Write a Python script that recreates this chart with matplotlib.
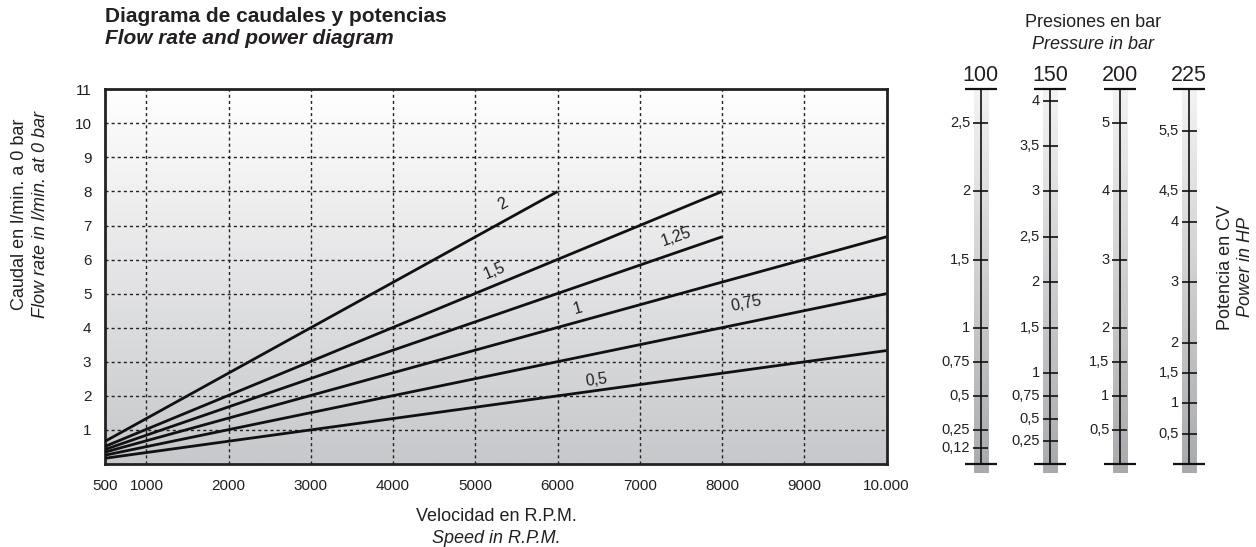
import numpy as np
import matplotlib
matplotlib.use("Agg")
import matplotlib.pyplot as plt
from matplotlib.colors import LinearSegmentedColormap

plt.rcParams['font.family'] = ['Liberation Sans', 'DejaVu Sans']

# ---------------- data ----------------
line_names = ["2", "1,5", "1,25", "1", "0,75", "0,5"]
rpm_start = [500, 500, 500, 500, 500, 500]
rpm_end = [6000, 8000, 8000, 10000, 10000, 10000]
flow_start = [0.67, 0.52, 0.43, 0.35, 0.26, 0.17]
flow_end = [8.0, 8.0, 6.67, 6.67, 5.0, 3.33]

x_ticks = [500, 1000, 2000, 3000, 4000, 5000, 6000, 7000, 8000, 9000, 10000]
x_ticklabels = ["500", "1000", "2000", "3000", "4000", "5000", "6000",
                "7000", "8000", "9000", "10.000"]
y_ticks = [1, 2, 3, 4, 5, 6, 7, 8, 9, 10, 11]

pressures = [100, 150, 200, 225]
power_100 = [2.5, 2, 1.5, 1, 0.75, 0.5, 0.25, 0.12]
power_150 = [4, 3.5, 3, 2.5, 2, 1.5, 1, 0.75, 0.5, 0.25]
power_200 = [5, 4, 3, 2, 1.5, 1, 0.5]
power_225 = [5.5, 4.5, 4, 3, 2, 1.5, 1, 0.5]
power_ticks = [power_100, power_150, power_200, power_225]
FLOW_PER_CV_BAR = 400.0   # flow (l/min) = 400 * CV / pressure(bar)

# label placement (layout)
label_rpm = [5340, 5237, 7448, 6252, 8299, 6475]
label_offset = [0.50, 0.42, 0.46, 0.40, 0.55, 0.30]

# ---------------- figure ----------------
W, H = 1256, 547
fig = plt.figure(figsize=(W / 100, H / 100), dpi=100)
TXT = '#231f20'

def fx(px):
    return px / W

def fy(py):
    return 1 - py / H

left, right, top, bottom = 105.3, 886.5, 89.3, 464.0
ax = fig.add_axes([fx(left), fy(bottom), fx(right - left), (bottom - top) / H])

grad = np.linspace(0, 1, 256).reshape(-1, 1)
bg = LinearSegmentedColormap.from_list('bg', ['#c7c8cb', '#ffffff'])
ax.imshow(grad, extent=[500, 10000, 0, 11], origin='lower', aspect='auto',
          cmap=bg, zorder=0)

for xv in x_ticks[1:-1]:
    ax.axvline(xv, color='#222222', lw=1.0, ls=(0, (2.2, 2.2)), zorder=1)
for yv in y_ticks[:-1]:
    ax.axhline(yv, color='#222222', lw=1.0, ls=(0, (2.2, 2.2)), zorder=1)

for i, name in enumerate(line_names):
    xs = [rpm_start[i], rpm_end[i]]
    ys = [flow_start[i], flow_end[i]]
    ax.plot(xs, ys, color='#111111', lw=2.0, solid_capstyle='butt', zorder=3)
    slope = (ys[1] - ys[0]) / (xs[1] - xs[0])
    lx = label_rpm[i]
    ly = ys[0] + slope * (lx - xs[0]) + label_offset[i]
    ang = np.degrees(np.arctan(slope))
    ax.text(lx, ly, name, rotation=ang, transform_rotates_text=True,
            rotation_mode='anchor', ha='center', va='center',
            fontsize=11.5, color=TXT, zorder=4)

ax.set_xlim(500, 10000)
ax.set_ylim(0, 11)
ax.set_xticks(x_ticks)
ax.set_xticklabels(x_ticklabels)
ax.set_yticks(y_ticks)
ax.tick_params(axis='both', length=0, labelsize=11, colors=TXT)
ax.tick_params(axis='x', pad=11)
ax.tick_params(axis='y', pad=10)
for sp in ax.spines.values():
    sp.set_linewidth(2.0)
    sp.set_color('#222222')

# ---------------- pressure / power scales ----------------
col_px = [980.7, 1049.3, 1119.3, 1189.3]
spacing = 69.5
sleft = col_px[0] - spacing / 2
sright = col_px[-1] + spacing / 2
sax = fig.add_axes([fx(sleft), fy(bottom), fx(sright - sleft), (bottom - top) / H])
sax.set_xlim(-0.5, 3.5)
sax.set_ylim(0, 11)
sax.axis('off')
band = LinearSegmentedColormap.from_list('band', ['#a9aaad', '#f3f3f3'])
u = 1 / spacing  # px -> data units in x
for c, p in enumerate(pressures):
    sax.imshow(grad, extent=[c - 7 * u, c + 7 * u, -0.25, 11], origin='lower',
               aspect='auto', cmap=band, zorder=0, clip_on=False)
    sax.plot([c, c], [0, 11], color='#111111', lw=1.2, zorder=2)
    for yy in (0, 11):
        sax.plot([c - 16 * u, c + 16 * u], [yy, yy], color='#111111', lw=1.6,
                 zorder=2, clip_on=False, solid_capstyle='butt')
    sax.text(c, 11.24, str(p), ha='center', va='baseline', fontsize=15.5,
             color=TXT, clip_on=False)
    for v in power_ticks[c]:
        q = FLOW_PER_CV_BAR * v / p
        sax.plot([c - 7.5 * u, c + 7.5 * u], [q, q], color='#111111', lw=1.2,
                 zorder=2, solid_capstyle='butt')
        lab = ('%g' % v).replace('.', ',')
        sax.text(c - 10.5 * u, q, lab, ha='right', va='center', fontsize=10.5,
                 color=TXT)
sax.set_ylim(0, 11)

# ---------------- texts ----------------
fig.text(fx(105), fy(22), "Diagrama de caudales y potencias", fontsize=15,
         fontweight='bold', color=TXT, ha='left', va='baseline')
fig.text(fx(105), fy(44), "Flow rate and power diagram", fontsize=15,
         fontweight='bold', style='italic', color=TXT, ha='left', va='baseline')

fig.text(fx(496), fy(521), "Velocidad en R.P.M.", fontsize=13, color=TXT,
         ha='center', va='baseline')
fig.text(fx(496), fy(543), "Speed in R.P.M.", fontsize=13, style='italic',
         color=TXT, ha='center', va='baseline')

fig.text(fx(19.5), fy(214), "Caudal en l/min. a 0 bar", fontsize=13, color=TXT,
         rotation=90, ha='center', va='center')
fig.text(fx(41), fy(214), "Flow rate in l/min. at 0 bar", fontsize=13,
         style='italic', color=TXT, rotation=90, ha='center', va='center')

fig.text(fx(1093), fy(27), "Presiones en bar", fontsize=13, color=TXT,
         ha='center', va='baseline')
fig.text(fx(1093), fy(49), "Pressure in bar", fontsize=13, style='italic',
         color=TXT, ha='center', va='baseline')

fig.text(fx(1226), fy(267), "Potencia en CV", fontsize=13, color=TXT,
         rotation=90, ha='center', va='center')
fig.text(fx(1245.5), fy(267), "Power in HP", fontsize=13, style='italic',
         color=TXT, rotation=90, ha='center', va='center')

fig.savefig("out.png", dpi=100)
